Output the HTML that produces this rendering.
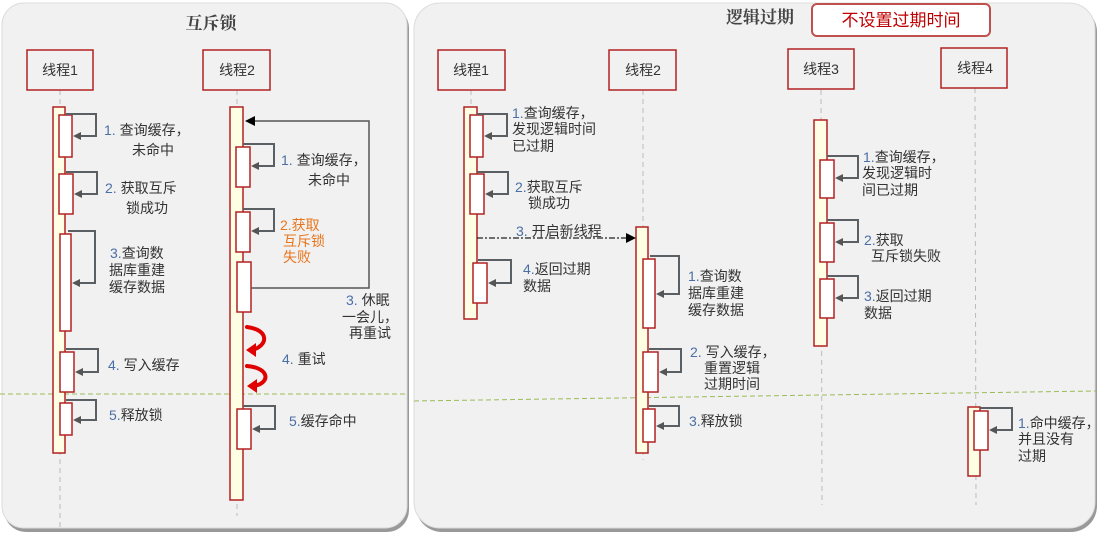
<!DOCTYPE html>
<html><head><meta charset="utf-8"><style>
html,body{margin:0;padding:0;background:#fff;}
svg{display:block;}
text{font-family:"Liberation Sans","Noto Sans CJK SC",sans-serif;font-size:14px;fill:#333;}
.n{fill:#4a6fa5;}
.o{fill:#e8761e;}
.h{font-size:14px;text-anchor:middle;}
.t{font-family:"Liberation Serif","Noto Serif CJK SC",serif;font-size:17px;font-weight:bold;text-anchor:middle;fill:#444;}
</style></head><body>
<svg width="1098" height="533" viewBox="0 0 1098 533" xmlns="http://www.w3.org/2000/svg">
<defs>
<marker id="ag" markerWidth="8" markerHeight="8" refX="6" refY="4" orient="auto" markerUnits="userSpaceOnUse"><path d="M0,0 L8,4 L0,8 z" fill="#555"/></marker>
<marker id="ab" markerWidth="10" markerHeight="10" refX="8" refY="5" orient="auto" markerUnits="userSpaceOnUse"><path d="M0,0 L10,5 L0,10 z" fill="#000"/></marker>
</defs>
<rect x="4" y="6" width="405" height="526" rx="22" fill="#999"/>
<rect x="2" y="3" width="405" height="525" rx="22" fill="#f1f1f1" stroke="#dcdcdc"/>
<rect x="416" y="6" width="681" height="526" rx="26" fill="#999"/>
<rect x="414" y="3" width="681" height="525" rx="26" fill="#f1f1f1" stroke="#dcdcdc"/>
<text x="211" y="29" class="t">互斥锁</text>
<text x="760" y="23" class="t">逻辑过期</text>
<rect x="812" y="4" width="178" height="32" rx="5" fill="#fff" stroke="#c0504d" stroke-width="2"/>
<text x="901" y="26" style="font-size:17px;text-anchor:middle;fill:#c00000">不设置过期时间</text>

<line x1="0" y1="394" x2="408" y2="394" stroke="#9bbb59" stroke-dasharray="5,3"/>
<line x1="414" y1="401" x2="1096" y2="391" stroke="#9bbb59" stroke-dasharray="5,3"/>

<g stroke="#bbb" stroke-dasharray="5,4">
<line x1="60" y1="90" x2="60" y2="528"/>
<line x1="237" y1="90" x2="237" y2="516"/>
<line x1="471" y1="90" x2="471" y2="320"/>
<line x1="643" y1="90" x2="643" y2="460"/>
<line x1="821" y1="90" x2="822" y2="505"/>
<line x1="975" y1="88" x2="976" y2="505"/>
</g>

<g fill="#f1f1f1" stroke="#b22222" stroke-width="1.5">
<rect x="27" y="50" width="66" height="40"/>
<rect x="203" y="50" width="67" height="40"/>
<rect x="438" y="50" width="67" height="40"/>
<rect x="609" y="50" width="67" height="40"/>
<rect x="788" y="49" width="66" height="40"/>
<rect x="941" y="48" width="66" height="40"/>
</g>
<text class="h" x="60" y="75">线程1</text>
<text class="h" x="237" y="75">线程2</text>
<text class="h" x="471" y="75">线程1</text>
<text class="h" x="643" y="75">线程2</text>
<text class="h" x="821" y="74">线程3</text>
<text class="h" x="975" y="73">线程4</text>

<g fill="#fefee4" stroke="#b22222" stroke-width="1.5">
<rect x="53" y="107" width="12" height="346"/>
<rect x="230" y="107" width="13" height="393"/>
<rect x="464" y="107" width="13" height="212"/>
<rect x="636" y="227" width="12" height="226"/>
<rect x="814" y="120" width="13" height="226"/>
<rect x="968" y="407" width="12" height="69"/>
</g>
<g fill="#fff" stroke="#b22222" stroke-width="1.5">
<rect x="59" y="115" width="13" height="42"/>
<rect x="59" y="174" width="14" height="40"/>
<rect x="60" y="234" width="11" height="97"/>
<rect x="60" y="352" width="14" height="40"/>
<rect x="60" y="403" width="12" height="32"/>
<rect x="236" y="147" width="14" height="40"/>
<rect x="236" y="212" width="14" height="40"/>
<rect x="237" y="262" width="14" height="50"/>
<rect x="237" y="409" width="14" height="40"/>
<rect x="470" y="115" width="13" height="42"/>
<rect x="470" y="174" width="14" height="40"/>
<rect x="473" y="263" width="14" height="40"/>
<rect x="643" y="259" width="12" height="69"/>
<rect x="643" y="352" width="15" height="40"/>
<rect x="643" y="409" width="12" height="33"/>
<rect x="820" y="160" width="14" height="38"/>
<rect x="820" y="223" width="14" height="39"/>
<rect x="820" y="279" width="14" height="39"/>
<rect x="974" y="411" width="14" height="39"/>
</g>

<g fill="none" stroke="#5a5f63" stroke-width="2" marker-end="url(#ag)">
<path d="M66 114 H96 V136 H75"/>
<path d="M66 172 H97 V194 H76"/>
<path d="M68 231 H95 V283 H74"/>
<path d="M66 349 H98 V372 H77"/>
<path d="M66 400 H96 V420 H75"/>
<path d="M243 144 H274 V166 H253"/>
<path d="M243 209 H274 V231 H253"/>
<path d="M243 406 H275 V429 H254"/>
<path d="M477 114 H507 V136 H486"/>
<path d="M477 172 H508 V194 H487"/>
<path d="M478 260 H511 V283 H490"/>
<path d="M650 256 H679 V294 H658"/>
<path d="M649 349 H681 V372 H661"/>
<path d="M649 406 H679 V426 H658"/>
<path d="M827 156 H858 V178 H837"/>
<path d="M827 220 H858 V242 H837"/>
<path d="M827 276 H858 V298 H837"/>
<path d="M980 408 H1012 V430 H991"/>
</g>
<path d="M251 288 H369 V121 H247" fill="none" stroke="#555" stroke-width="1.5" marker-end="url(#ab)"/>
<path d="M477 238 H634" fill="none" stroke="#222" stroke-width="1.2" stroke-dasharray="6,2,2,2" marker-end="url(#ab)"/>

<g fill="none" stroke="#e00000" stroke-width="4" stroke-linecap="round">
<path d="M247 327 C270 330 268 346 252 350"/>
<path d="M247 366 C271 368 270 384 253 386"/>
</g>
<g fill="#e00000">
<path d="M246 350 L256 343 L256 357 z"/>
<path d="M247 386 L257 379 L257 393 z"/>
</g>

<text x="104" y="135"><tspan class="n">1.</tspan> 查询缓存，</text>
<text x="132" y="155">未命中</text>
<text x="105" y="193"><tspan class="n">2.</tspan> 获取互斥</text>
<text x="126" y="213">锁成功</text>
<text x="110" y="258"><tspan class="n">3.</tspan>查询数</text>
<text x="109" y="275">据库重建</text>
<text x="109" y="292">缓存数据</text>
<text x="108" y="370"><tspan class="n">4.</tspan> 写入缓存</text>
<text x="109" y="420"><tspan class="n">5.</tspan>释放锁</text>
<text x="281" y="165"><tspan class="n">1.</tspan> 查询缓存，</text>
<text x="308" y="185">未命中</text>
<text x="280" y="230" class="o">2.获取</text>
<text x="283" y="246" class="o">互斥锁</text>
<text x="283" y="262" class="o">失败</text>
<text x="346" y="305"><tspan class="n">3.</tspan>  休眠</text>
<text x="342" y="322">一会儿，</text>
<text x="349" y="338">再重试</text>
<text x="282" y="364"><tspan class="n">4.</tspan>   重试</text>
<text x="289" y="426"><tspan class="n">5.</tspan>缓存命中</text>

<text x="512" y="118"><tspan class="n">1.</tspan>查询缓存，</text>
<text x="512" y="134">发现逻辑时间</text>
<text x="512" y="151">已过期</text>
<text x="515" y="192"><tspan class="n">2.</tspan>获取互斥</text>
<text x="528" y="208">锁成功</text>
<text x="516" y="236"><tspan class="n">3.</tspan> 开启新线程</text>
<text x="523" y="274"><tspan class="n">4.</tspan>返回过期</text>
<text x="523" y="291">数据</text>
<text x="688" y="281"><tspan class="n">1.</tspan>查询数</text>
<text x="688" y="298">据库重建</text>
<text x="688" y="315">缓存数据</text>
<text x="690" y="357"><tspan class="n">2.</tspan> 写入缓存，</text>
<text x="704" y="373">重置逻辑</text>
<text x="704" y="389">过期时间</text>
<text x="689" y="426"><tspan class="n">3.</tspan>释放锁</text>
<text x="863" y="162"><tspan class="n">1.</tspan>查询缓存，</text>
<text x="862" y="178">发现逻辑时</text>
<text x="862" y="195">间已过期</text>
<text x="864" y="245"><tspan class="n">2.</tspan>获取</text>
<text x="871" y="261">互斥锁失败</text>
<text x="864" y="301"><tspan class="n">3.</tspan>返回过期</text>
<text x="864" y="318">数据</text>
<text x="1018" y="428"><tspan class="n">1.</tspan>命中缓存，</text>
<text x="1018" y="444">并且没有</text>
<text x="1018" y="461">过期</text>
</svg>
</body></html>
